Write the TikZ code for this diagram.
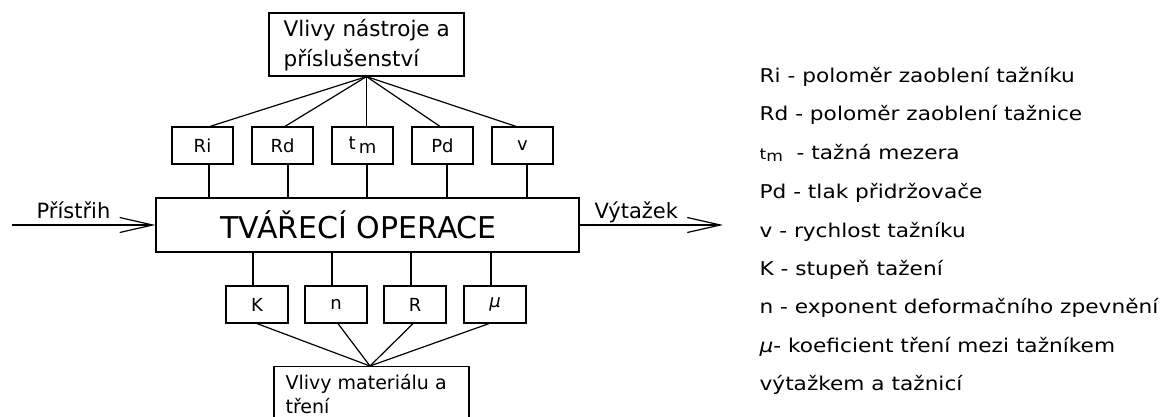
\documentclass[tikz,border=0pt]{standalone}
\usepackage{fontspec}
\setmainfont{DejaVu Sans}
\newfontfamily\legendfont[FakeStretch=1.14]{DejaVu Sans}
\usetikzlibrary{arrows.meta}

\begin{document}
\begin{tikzpicture}[x=1pt,y=-1pt,
  line width=1.2pt,
  box/.style={draw, rectangle, inner sep=0pt},
  param/.style={box, minimum width=61pt, minimum height=37pt,
                font=\fontsize{18}{20}\selectfont},
  txt/.style={anchor=base west, inner sep=0pt},
  flow/.style={-{Straight Barb[length=33pt,width=15pt,line width=1.2pt]}},
  legend/.style={txt, font=\legendfont\fontsize{19}{22}\selectfont},
]
\useasboundingbox (0,0) rectangle (1162,417);
\clip (0,0) rectangle (1162,417);
\fill[white] (0,0) rectangle (1162,417);

% tool influences
\node[box, minimum width=195pt, minimum height=63pt] (tool) at (366.5,44.5) {};
\node[txt, font=\fontsize{21.5}{26}\selectfont] (tool1) at (283,37) {Vlivy nástroje a};
\node[txt, font=\fontsize{21.5}{26}\selectfont] (tool2) at (283,67) {příslušenství};

% tool parameters
\node[param] (ri) at (202.5,145.5) {Ri};
\node[param] (rd) at (282.5,145.5) {Rd};
\node[param] (tm) at (362.5,145.5) {t\,\raisebox{-4pt}{m}};
\node[param] (pd) at (442.5,145.5) {Pd};
\node[param] (v)  at (522.5,145.5) {v};

% forming operation
\node[box, minimum width=423pt, minimum height=54pt] (op) at (367.5,225) {};
\node[inner sep=0pt, font=\fontsize{30}{34}\selectfont] (optxt) at (358.5,225) {TVÁŘECÍ OPERACE};

% material parameters
\node[param, minimum width=62pt] (k)  at (257,304.5) {K};
\node[param, minimum width=62pt] (n)  at (336,304.5) {n};
\node[param, minimum width=62pt] (r)  at (415,304.5) {R};
\node[param, minimum width=62pt] (mu) at (495,304.5) {\itshape μ};

% material influences
\node[box, minimum width=195pt, minimum height=70pt, anchor=north] (mat) at (371.5,366) {};
\node[txt, font=\fontsize{19}{24}\selectfont] (mat1) at (285,389) {Vlivy materiálu a};
\node[txt, font=\fontsize{19}{24}\selectfont] (mat2) at (285,413) {tření};

% tool box to parameters
\draw (tool.south) -- ([xshift=7.5pt]ri.north);
\draw (tool.south) -- ([xshift=2.5pt]rd.north);
\draw (tool.south) -- ([xshift=4pt]tm.north);
\draw (tool.south) -- ([xshift=-2.5pt]pd.north);
\draw (tool.south) -- ([xshift=-6.5pt]v.north);

% parameters to operation
\foreach \p/\dx in {ri/6.5, rd/5.5, tm/4.5, pd/4.5, v/4.5}
  \draw ([xshift=\dx pt]\p.south) -- ([xshift=\dx pt]\p.south |- op.north);
\foreach \p in {k, n, r, mu}
  \draw ([xshift=-4pt]\p.north) -- ([xshift=-4pt]\p.north |- op.south);

% material parameters to material box
\draw ([xshift=0pt]k.south)  -- ([xshift=-1.5pt]mat.north);
\draw ([xshift=2pt]n.south)  -- ([xshift=-1.5pt]mat.north);
\draw ([xshift=-2pt]r.south) -- ([xshift=-1.5pt]mat.north);
\draw ([xshift=-6pt]mu.south) -- ([xshift=-1.5pt]mat.north);

% input and output
\coordinate (src) at (12,225);
\coordinate (dst) at (723,225);
\draw[flow] (src) -- (op.west);
\draw[flow] (op.east) -- (dst);
\node[txt, font=\fontsize{21}{24}\selectfont] (inlab) at (36,218) {Přístřih};
\node[txt, font=\fontsize{21}{24}\selectfont] (outlab) at (594,218) {Výtažek};

% legend
\node[legend] (l1) at (759,83)  {Ri - poloměr zaoblení tažníku};
\node[legend] (l2) at (759,121) {Rd - poloměr zaoblení tažnice};
\node[legend] (l3) at (759,160) {{\fontsize{15}{15}\selectfont t\raisebox{-1.5pt}{m}}\ \ - tažná mezera};
\node[legend] (l4) at (759,198) {Pd - tlak přidržovače};
\node[legend] (l5) at (759,237) {v - rychlost tažníku};
\node[legend] (l6) at (759,275) {K - stupeň tažení};
\node[legend] (l7) at (759,313) {n - exponent deformačního zpevnění};
\node[legend] (l8) at (759,352) {{\itshape μ}- koeficient tření mezi tažníkem};
\node[legend] (l9) at (759,390) {výtažkem a tažnicí};
\end{tikzpicture}
\end{document}
